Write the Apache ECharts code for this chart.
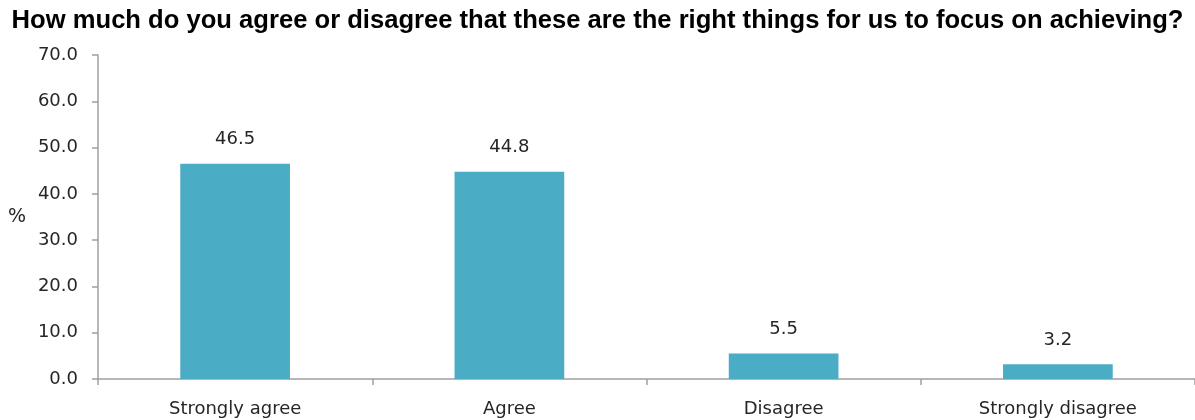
<!DOCTYPE html>
<html>
<head>
<meta charset="utf-8">
<script src="https://cdn.jsdelivr.net/npm/echarts@6/dist/echarts.min.js"></script>
<style>
html,body{margin:0;padding:0;background:#fff;}
#chart{width:1195px;height:420px;}
</style>
</head>
<body>
<div id="chart"></div>
<script>
var titleText = 'How much do you agree or disagree that these are the right things for us to focus on achieving?';
var categories = ['Strongly agree', 'Agree', 'Disagree', 'Strongly disagree'];
var values = [46.5, 44.8, 5.5, 3.2];
var yTicks = [0, 10, 20, 30, 40, 50, 60, 70];

var chart = echarts.init(document.getElementById('chart'), null, {renderer: 'canvas'});
chart.setOption({
  animation: false,
  backgroundColor: '#ffffff',
  title: {
    text: titleText,
    left: 'center',
    top: 3,
    textStyle: {fontFamily: 'Liberation Sans', fontWeight: 'bold', fontSize: 25.6, color: '#000000'}
  },
  grid: {left: 98, right: 0, top: 55, bottom: 41, containLabel: false, outerBoundsMode: 'none'},
  xAxis: {
    type: 'category',
    data: categories,
    axisLine: {lineStyle: {color: '#a0a0a0', width: 1.5}},
    axisTick: {show: true, alignWithLabel: false, length: 6, lineStyle: {color: '#a0a0a0', width: 1.5}},
    axisLabel: {margin: 21, fontFamily: 'DejaVu Sans', fontSize: 18, color: '#262626'},
    splitLine: {show: false}
  },
  yAxis: {
    type: 'value',
    min: yTicks[0],
    max: yTicks[yTicks.length - 1],
    interval: 10,
    name: '%',
    nameLocation: 'middle',
    nameRotate: 0,
    nameGap: 72,
    nameTextStyle: {fontFamily: 'DejaVu Sans', fontSize: 19, color: '#262626', padding: [0, 0, 6, 0]},
    axisLine: {show: true, lineStyle: {color: '#a0a0a0', width: 1.5}},
    axisTick: {show: true, length: 6, lineStyle: {color: '#a0a0a0', width: 1.5}},
    axisLabel: {margin: 20, fontFamily: 'DejaVu Sans', fontSize: 18, color: '#262626', formatter: function (v) { return v.toFixed(1); }},
    splitLine: {show: false}
  },
  series: [{
    type: 'bar',
    data: values,
    barWidth: '40%',
    itemStyle: {color: '#4BACC6'},
    label: {
      show: true,
      position: 'top',
      distance: 15,
      fontFamily: 'DejaVu Sans',
      fontSize: 18,
      color: '#262626',
      formatter: function (p) { return p.value.toFixed(1); }
    }
  }]
});
</script>
</body>
</html>
